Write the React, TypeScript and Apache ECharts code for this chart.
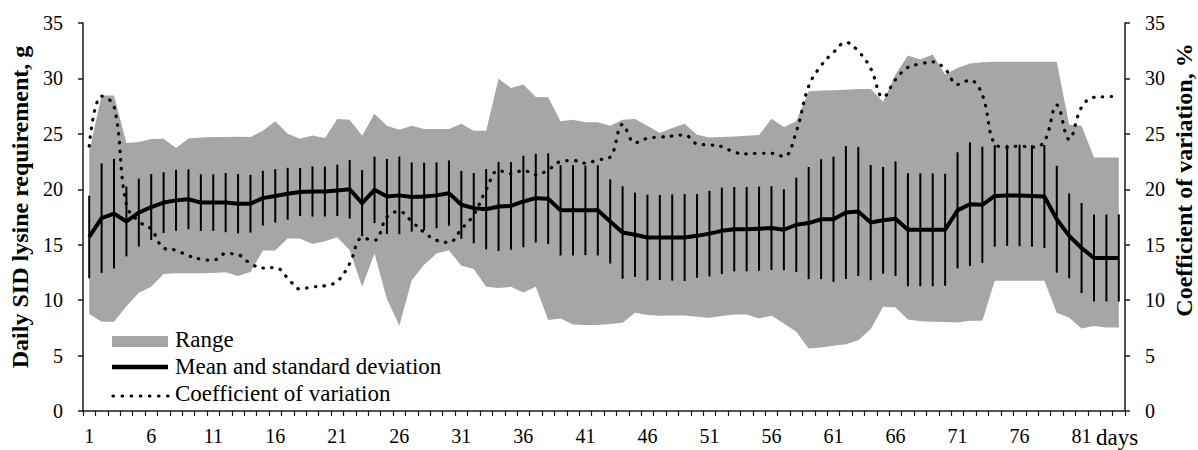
import React, { useEffect, useRef } from "react";
import * as echarts from "echarts";

const days: string[] = [
  "1","2","3","4","5","6","7","8","9","10","11","12","13","14","15","16","17","18","19","20",
  "21","22","23","24","25","26","27","28","29","30","31","32","33","34","35","36","37","38","39","40",
  "41","42","43","44","45","46","47","48","49","50","51","52","53","54","55","56","57","58","59","60",
  "61","62","63","64","65","66","67","68","69","70","71","72","73","74","75","76","77","78","79","80",
  "81","82","83","84",
];

const meanReq: number[] = [
  15.7, 17.4, 17.8, 17.1, 17.9, 18.4, 18.8, 19.0, 19.1, 18.8,
  18.8, 18.8, 18.7, 18.7, 19.2, 19.4, 19.6, 19.75, 19.8, 19.8,
  19.9, 20.0, 18.75, 19.95, 19.35, 19.45, 19.3, 19.35, 19.45, 19.65,
  18.6, 18.3, 18.2, 18.45, 18.5, 18.9, 19.2, 19.15, 18.1, 18.1,
  18.1, 18.1, 17.1, 16.1, 15.9, 15.65, 15.65, 15.65, 15.65, 15.8,
  16.0, 16.25, 16.4, 16.4, 16.45, 16.5, 16.35, 16.8, 16.95, 17.3,
  17.3, 17.9, 18.0, 17.0, 17.2, 17.35, 16.35, 16.35, 16.35, 16.35,
  18.1, 18.65, 18.6, 19.4, 19.45, 19.45, 19.4, 19.35, 17.3, 15.8,
  14.7, 13.8, 13.8, 13.8,
];

const sdReq: number[] = [
  3.72, 4.94, 4.94, 3.15, 3.06, 2.98, 2.74, 2.76, 2.7, 2.55,
  2.55, 2.67, 2.67, 2.6, 2.47, 2.41, 2.34, 2.17, 2.26, 2.25,
  2.32, 2.64, 2.98, 3.0, 3.39, 3.51, 3.12, 3.05, 2.97, 2.95,
  3.06, 3.17, 3.62, 4.02, 3.96, 4.13, 4.0, 4.1, 4.07, 4.07,
  4.04, 4.07, 3.8, 4.17, 3.8, 3.87, 3.84, 3.89, 3.92, 3.78,
  3.86, 3.9, 3.81, 3.81, 3.8, 3.78, 3.66, 4.25, 5.06, 5.41,
  5.65, 6.0, 5.82, 5.2, 4.82, 5.17, 5.1, 5.09, 5.09, 5.05,
  5.24, 5.58, 5.24, 4.58, 4.56, 4.58, 4.58, 4.64, 4.82, 3.83,
  4.07, 3.92, 3.92, 3.93,
];

const rangeLow: number[] = [
  8.74, 8.05, 8.05, 9.46, 10.67, 11.21, 12.36, 12.42, 12.42, 12.42,
  12.45, 12.51, 12.18, 12.54, 14.47, 14.47, 15.55, 15.55, 15.07, 15.31,
  15.67, 14.5, 11.2, 14.2, 10.1, 7.7, 11.8, 13.2, 14.2, 14.5,
  13.1, 12.8, 11.2, 11.1, 11.2, 10.7, 11.2, 8.2, 8.35, 7.8,
  7.75, 7.75, 7.84, 7.96, 8.86, 8.65, 8.59, 8.62, 8.62, 8.5,
  8.41, 8.56, 8.71, 8.71, 8.35, 8.59, 7.9, 7.14, 5.64, 5.73,
  5.88, 6.03, 6.39, 7.4, 9.4, 9.34, 8.26, 8.1, 8.05, 8.02,
  7.99, 8.14, 8.14, 11.75, 11.75, 11.75, 11.75, 11.75, 8.86, 8.41,
  7.44, 7.66, 7.53, 7.53,
];

const rangeHigh: number[] = [
  23.4, 28.45, 28.45, 24.17, 24.26, 24.53, 24.56, 23.72, 24.59, 24.68,
  24.71, 24.71, 24.74, 24.71, 25.29, 26.13, 25.02, 24.56, 24.86, 24.62,
  26.34, 26.28, 24.83, 26.82, 25.74, 25.38, 25.74, 25.44, 25.44, 25.44,
  25.92, 25.29, 25.29, 29.96, 29.14, 29.45, 28.33, 28.3, 26.13, 26.28,
  26.04, 26.04, 25.74, 26.28, 26.34, 25.74, 25.08, 25.53, 25.92, 24.93,
  24.68, 24.71, 24.77, 24.83, 24.89, 26.37, 25.62, 26.13, 28.84, 28.9,
  28.93, 28.99, 29.05, 29.05, 27.9, 30.35, 32.07, 31.7, 32.16, 30.35,
  30.95, 31.34, 31.46, 31.5, 31.5, 31.5, 31.5, 31.5, 31.5, 25.83,
  25.74, 22.87, 22.87, 22.87,
];

const cvPct: number[] = [
  23.9, 28.4, 27.5, 18.6, 17.1, 16.4, 14.7, 14.5, 14.0, 13.7,
  13.6, 14.2, 14.1, 13.3, 12.9, 12.95, 12.0, 11.0, 11.2, 11.3,
  11.7, 13.3, 15.6, 15.4, 17.5, 18.0, 17.1, 16.1, 15.4, 15.2,
  16.4, 17.7, 19.95, 21.7, 21.4, 21.7, 21.3, 21.75, 22.5, 22.6,
  22.35, 22.65, 22.9, 25.85, 24.2, 24.6, 24.7, 24.8, 24.9, 24.1,
  24.0, 23.85, 23.35, 23.2, 23.25, 23.25, 22.95, 25.2, 29.3, 31.15,
  32.35, 33.25, 32.45, 30.9, 28.3, 29.9, 31.0, 31.3, 31.5, 30.85,
  29.45, 29.85, 28.5, 24.1, 23.8, 23.9, 23.8, 24.3, 27.6, 24.5,
  27.4, 28.3, 28.35, 28.4,
];

const yTicks = { min: 0, max: 35, interval: 5 };
const legendNames = ["Range", "Mean and standard deviation", "Coefficient of variation"];
const leftTitle = "Daily SID lysine requirement, g";
const rightTitle = "Coefficient of variation, %";
const xTitle = "days";

const FONT = "Liberation Serif";
const GRAY = "#A6A6A6";
const AXIS = "#1a1a1a";

function txt(text: string, x: number, y: number, size: number, opts: any = {}) {
  return {
    type: "text",
    x,
    y,
    rotation: opts.rotation || 0,
    z: 10,
    style: {
      text,
      fill: "#000",
      fontFamily: FONT,
      fontSize: size,
      fontWeight: opts.bold ? "bold" : "normal",
      align: opts.align || "left",
      verticalAlign: "middle",
      textAlign: opts.align || "left",
      textVerticalAlign: "middle",
    },
  };
}

export default function App() {
  const ref = useRef<HTMLDivElement>(null);

  useEffect(() => {
    if (!ref.current) return;
    const chart = echarts.init(ref.current, undefined, { renderer: "svg" });

    const yAxisCommon = {
      type: "value" as const,
      min: yTicks.min,
      max: yTicks.max,
      interval: yTicks.interval,
      splitLine: { show: false },
      axisLine: { show: true, lineStyle: { color: AXIS, width: 1.5 } },
      axisTick: { show: true, inside: false, length: 5, lineStyle: { color: AXIS, width: 1.5 } },
      axisLabel: { color: "#000", fontFamily: FONT, fontSize: 20, margin: 20 },
    };

    const option: any = {
      animation: false,
      textStyle: { fontFamily: FONT },
      grid: { left: 83, right: 73, top: 23, bottom: 39, containLabel: false },
      xAxis: {
        type: "category",
        data: days,
        boundaryGap: true,
        axisLine: { show: true, lineStyle: { color: AXIS, width: 1.5 } },
        axisTick: { show: true, interval: 0, alignWithLabel: false, length: 5, lineStyle: { color: AXIS, width: 1.2 } },
        axisLabel: {
          interval: (i: number) => i % 5 === 0 && i <= 80,
          color: "#000",
          fontFamily: FONT,
          fontSize: 20,
          margin: 15,
        },
        splitLine: { show: false },
      },
      yAxis: [
        { ...yAxisCommon, position: "left" },
        { ...yAxisCommon, position: "right" },
      ],
      series: [
        {
          name: "rangeLow",
          type: "line",
          stack: "range",
          data: rangeLow,
          symbol: "none",
          lineStyle: { opacity: 0, width: 0 },
          z: 1,
        },
        {
          name: legendNames[0],
          type: "line",
          stack: "range",
          data: rangeHigh.map((h, i) => +(h - rangeLow[i]).toFixed(3)),
          symbol: "none",
          lineStyle: { opacity: 0, width: 0 },
          areaStyle: { color: GRAY, opacity: 1 },
          z: 1,
        },
        {
          name: "sdBars",
          type: "custom",
          data: meanReq.map((m, i) => [i, m - sdReq[i], m + sdReq[i]]),
          encode: { x: 0, y: [1, 2] },
          renderItem: (params: any, api: any) => {
            const x = api.value(0);
            const p1 = api.coord([x, api.value(1)]);
            const p2 = api.coord([x, api.value(2)]);
            return {
              type: "line",
              shape: { x1: p1[0], y1: p1[1], x2: p2[0], y2: p2[1] },
              style: { stroke: "#000", lineWidth: 2 },
            };
          },
          z: 3,
        },
        {
          name: legendNames[1],
          type: "line",
          data: meanReq,
          symbol: "none",
          lineStyle: { color: "#000", width: 4, join: "round" },
          z: 4,
        },
        {
          name: legendNames[2],
          type: "line",
          yAxisIndex: 1,
          data: cvPct,
          symbol: "none",
          smooth: 0.4,
          lineStyle: { color: "#000", width: 3.2, type: [0.5, 8.3], cap: "round" },
          z: 5,
        },
      ],
      graphic: [
        { type: "rect", shape: { x: 112, y: 336, width: 56, height: 11 }, style: { fill: GRAY }, z: 10 },
        { type: "line", shape: { x1: 112, y1: 367, x2: 168, y2: 367 }, style: { stroke: "#000", lineWidth: 4.5 }, z: 10 },
        {
          type: "line",
          shape: { x1: 113, y1: 396, x2: 168, y2: 396 },
          style: { stroke: "#000", lineWidth: 3.2, lineDash: [0.5, 8.6], lineCap: "round" },
          z: 10,
        },
        txt(legendNames[0], 175, 339, 23),
        txt(legendNames[1], 175, 366, 23),
        txt(legendNames[2], 175, 393, 23),
        txt(xTitle, 1117, 437, 23, { align: "center" }),
        txt(leftTitle, 20, 207, 24, { align: "center", bold: true, rotation: Math.PI / 2 }),
        txt(rightTitle, 1184, 180, 24, { align: "center", bold: true, rotation: Math.PI / 2 }),
      ],
    };

    chart.setOption(option);
    return () => chart.dispose();
  }, []);

  return (
    <div
      ref={ref}
      style={{ position: "fixed", left: 0, top: 0, width: 1198, height: 450, background: "#fff" }}
    />
  );
}
